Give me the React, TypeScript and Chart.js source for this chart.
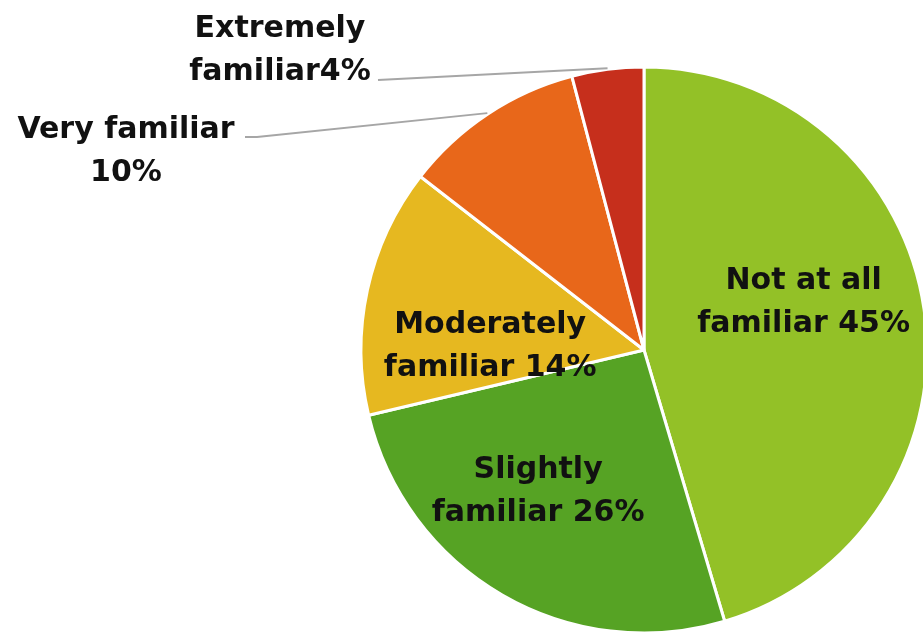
import React, { useEffect, useRef } from "react";
import { Chart, registerables } from "chart.js";

Chart.register(...registerables);

const categories = [
  "Not at all familiar",
  "Slightly familiar",
  "Moderately familiar",
  "Very familiar",
  "Extremely familiar",
];
const values = [45.4, 25.9, 14.2, 10.4, 4.1];
const labelLines = [
  ["Not at all", "familiar 45%"],
  ["Slightly", "familiar 26%"],
  ["Moderately", "familiar 14%"],
  ["Very familiar", "10%"],
  ["Extremely", "familiar4%"],
];
const colors = ["#93C127", "#56A324", "#E6B820", "#E8671A", "#C62F1C"];

// label placement: inside labels by polar anchor (deg clockwise from top, radius fraction)
const insideAnchors: Record<number, { deg: number; frac: number }> = {
  0: { deg: 72.3, frac: 0.592 },
  1: { deg: 217.4, frac: 0.616 },
  2: { deg: 272.4, frac: 0.544 },
};
// outside labels: text block centre and leader start
const outsideAnchors: Record<number, { cx: number; cy: number; lx: number; ly: number; kink: number }> = {
  3: { cx: 126, cy: 148, lx: 245, ly: 137, kink: 12 },
  4: { cx: 280, cy: 47.5, lx: 378, ly: 80, kink: 0 },
};

const FONT = "bold 30px 'DejaVu Sans'";
const LINE_GAP = 43;

const labelPlugin = {
  id: "pieLabels",
  afterDatasetsDraw(chart: any) {
    const ctx = chart.ctx;
    const meta = chart.getDatasetMeta(0);
    ctx.save();
    ctx.font = FONT;
    ctx.textAlign = "center";
    ctx.textBaseline = "alphabetic";
    meta.data.forEach((arc: any, i: number) => {
      const { x, y, startAngle, endAngle, outerRadius } = arc.getProps(
        ["x", "y", "startAngle", "endAngle", "outerRadius"],
        true
      );
      const lines = labelLines[i];
      let cx: number, cy: number;
      if (insideAnchors[i]) {
        const a = ((insideAnchors[i].deg - 90) * Math.PI) / 180;
        cx = x + Math.cos(a) * insideAnchors[i].frac * outerRadius;
        cy = y + Math.sin(a) * insideAnchors[i].frac * outerRadius;
      } else {
        const o = outsideAnchors[i];
        cx = o.cx;
        cy = o.cy;
        const mid = (startAngle + endAngle) / 2;
        const ex = x + Math.cos(mid) * (outerRadius + 1);
        const ey = y + Math.sin(mid) * (outerRadius + 1);
        ctx.strokeStyle = "#A6A6A6";
        ctx.lineWidth = 2;
        ctx.beginPath();
        ctx.moveTo(o.lx, o.ly);
        if (o.kink) ctx.lineTo(o.lx + o.kink, o.ly);
        ctx.lineTo(ex, ey);
        ctx.stroke();
      }
      ctx.fillStyle = "#111111";
      const n = lines.length;
      lines.forEach((t, k) => {
        const lc = cy + (k - (n - 1) / 2) * LINE_GAP;
        ctx.fillText(t, cx, lc + 11);
      });
    });
    ctx.restore();
  },
};

export default function App() {
  const ref = useRef<HTMLCanvasElement | null>(null);
  useEffect(() => {
    if (!ref.current) return;
    const chart = new Chart(ref.current, {
      type: "pie",
      data: {
        labels: categories,
        datasets: [
          {
            data: values,
            backgroundColor: colors,
            borderColor: "#FFFFFF",
            borderWidth: 3,
          },
        ],
      },
      options: {
        responsive: false,
        maintainAspectRatio: false,
        animation: false,
        layout: { padding: { top: 65.5, bottom: 65.5, left: 359.5, right: 71.5 } },
        plugins: {
          legend: { display: false },
          tooltip: { enabled: false },
        },
      },
      plugins: [labelPlugin],
    });
    return () => chart.destroy();
  }, []);
  return (
    <div
      style={{
        position: "fixed",
        left: 0,
        top: 0,
        width: 923,
        height: 632,
        overflow: "hidden",
        background: "#FFFFFF",
      }}
    >
      <canvas ref={ref} width={1000} height={700} style={{ display: "block" }} />
    </div>
  );
}
